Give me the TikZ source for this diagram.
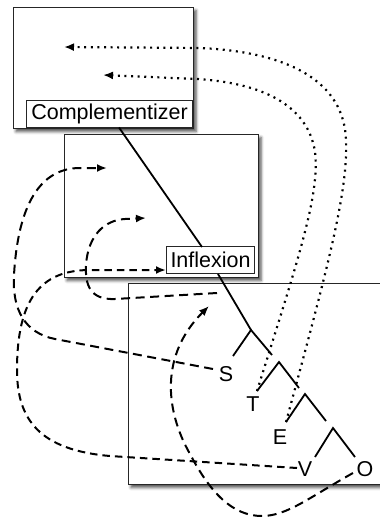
\documentclass[tikz,border=0pt]{standalone}
\usepackage{fontspec}
\setmainfont{Liberation Sans}
\usetikzlibrary{shadows.blur,arrows.meta}
\begin{document}
\begin{tikzpicture}[x=1pt,y=-1pt,
  frame/.style={draw=black!85, line width=1pt, fill=white,
    blur shadow={shadow xshift=2.5pt, shadow yshift=-3pt, shadow blur radius=3pt, shadow opacity=70},
    inner sep=0pt, anchor=north west},
  lab/.style={draw=black!85, line width=0.9pt, fill=white, font=\fontsize{21.5}{24}\selectfont, inner sep=0pt, anchor=south east},
  leaf/.style={font=\fontsize{21.5}{24}\selectfont, inner sep=0pt},
  branch/.style={line width=1.8pt},
  mv/.style={line width=2pt, dash pattern=on 9pt off 5.5pt, -{Latex[length=10pt,width=8pt]}},
  mvb/.style={mv, dash pattern=on 7.5pt off 5pt},
  dot/.style={line width=2.2pt, dash pattern=on 2pt off 4.6pt, -{Latex[length=10pt,width=8pt]}}
]
\useasboundingbox (0,0) rectangle (380,517);
\clip (0,0) rectangle (380,517);

% boxes
\node[frame, minimum width=180pt, minimum height=121pt] (box1) at (13,7) {};
\node[lab, minimum width=166pt, minimum height=27pt] (comp) at (193,127.5) {Complementizer};
\node[frame, minimum width=194pt, minimum height=143pt] (box2) at (64,134) {};
\node[lab, minimum width=88pt, minimum height=27pt] (infl) at (255,274) {Inflexion};
\node[frame, minimum width=280pt, minimum height=201pt] (box3) at (128,283) {};

% tree coordinates
\coordinate (c0) at (119,127.5);
\coordinate (i0) at (202,247);
\coordinate (i1) at (218,274);
\coordinate (j1) at (251,330);
\coordinate (sa) at (233,356);
\coordinate (r1) at (272,355);
\coordinate (j2) at (279,362);
\coordinate (ta) at (257,391);
\coordinate (r2) at (299,388);
\coordinate (j3) at (305,394);
\coordinate (ea) at (286,422);
\coordinate (r3) at (326,421);
\coordinate (j4) at (333,428);
\coordinate (va) at (315,457);
\coordinate (oa) at (355,457);

\draw[branch] (c0) -- (i0);
\draw[branch] (i1) -- (j1);
\draw[branch] (sa) -- (j1) -- (r1);
\draw[branch] (ta) -- (j2) -- (r2);
\draw[branch] (ea) -- (j3) -- (r3);
\draw[branch] (va) -- (j4) -- (oa);

% leaves
\node[leaf] (S) at (226,374) {S};
\node[leaf] (T) at (253,404) {T};
\node[leaf] (E) at (280,437) {E};
\node[leaf] (V) at (305,469) {V};
\node[leaf] (O) at (365,469) {O};

% free ends
\coordinate (hE) at (64,47);
\coordinate (hT) at (103,75);
\coordinate (sS) at (213,369);
\coordinate (hS) at (107,168);
\coordinate (sV) at (297,468);
\coordinate (hV) at (166,270);
\coordinate (sO) at (353,473);
\coordinate (hO) at (209,306);
\coordinate (sD) at (217,293);
\coordinate (hD) at (146,218);

% dotted movements
\draw[dot] (ea) .. controls (330,260) and (348,190) .. (346,140)
  .. controls (344,82) and (290,52) .. (200,48) -- (hE);
\draw[dot] (ta) .. controls (298,260) and (320,195) .. (315,152)
  .. controls (308,105) and (262,83) .. (197,79) -- (hT);

% dashed movements
\draw[mv] (sS) -- (55,339) .. controls (25,333) and (12,310) .. (14,275)
  .. controls (18,205) and (40,168) .. (80,168) -- (hS);
\draw[mvb] (sV) -- (110,456) .. controls (40,450) and (17,420) .. (17,370)
  .. controls (17,300) and (40,270) .. (90,270) -- (hV);
\draw[mv] (sO) .. controls (310,497) and (287,516) .. (262,516)
  .. controls (232,516) and (210,492) .. (190,454)
  .. controls (165,410) and (160,355) .. (hO);
\draw[mv] (sD) -- (115,299) .. controls (90,300) and (85,285) .. (86,265)
  .. controls (88,235) and (105,220) .. (125,219) -- (hD);
\end{tikzpicture}
\end{document}
